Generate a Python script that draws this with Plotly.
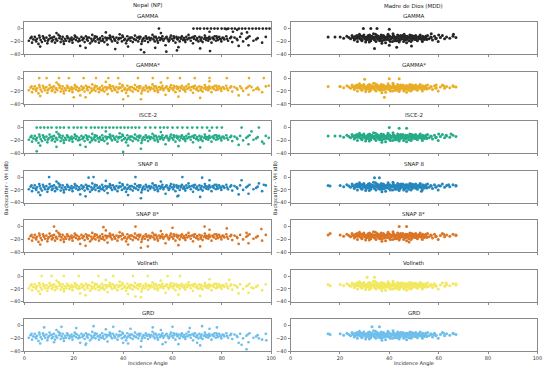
import plotly.graph_objects as go

W, H = 550, 370

SITES = ["Nepal (NP)", "Madre de Dios (MDD)"]
PRODUCTS = ["GAMMA", "GAMMA*", "ISCE-2", "SNAP 8", "SNAP 8*", "Vollrath", "GRD"]
COLORS = ["#000000", "#E69F00", "#009E73", "#0072B2", "#D55E00", "#F0E442", "#56B4E9"]
X_TICKS = [0, 20, 40, 60, 80, 100]
Y_TICKS = [0, -20, -40]

# Shared Nepal cloud (incidence angle, backscatter VH dB)
NP_POINTS = [
    (1.8,-19),(2.5,-15),(3.1,-22),(3.6,-17),(4.2,-13),(4.8,-20),(5.1,-16),(5.7,-24),(6.2,-14),(6.6,-18),
    (7.1,-21),(7.5,-12),(8.0,-16),(8.4,-19),(8.9,-14),(9.3,-23),(9.8,-17),(10.2,-11),(10.6,-15),(11.1,-20),
    (11.5,-18),(12.0,-13),(12.4,-22),(12.9,-16),(13.3,-19),(13.8,-10),(14.2,-15),(14.7,-21),(15.1,-17),(15.5,-13),
    (16.0,-24),(16.4,-16),(16.9,-19),(17.3,-12),(17.8,-15),(18.2,-20),(18.6,-17),(19.1,-14),(19.5,-22),(20.0,-16),
    (20.4,-11),(20.9,-18),(21.3,-14),(21.8,-20),(22.2,-16),(22.6,-27),(23.1,-13),(23.5,-18),(24.0,-15),(24.4,-21),
    (24.9,-12),(25.3,-17),(25.7,-19),(26.2,-14),(26.6,-23),(27.1,-16),(27.5,-10),(28.0,-18),(28.4,-15),(28.8,-20),
    (29.3,-13),(29.7,-17),(30.2,-22),(30.6,-15),(31.1,-19),(31.5,-12),(31.9,-16),(32.4,-21),(32.8,-14),(33.3,-18),
    (33.7,-25),(34.2,-15),(34.6,-11),(35.0,-17),(35.5,-20),(35.9,-13),(36.4,-16),(36.8,-19),(37.3,-14),(37.7,-22),
    (38.1,-17),(38.6,-9),(39.0,-15),(39.5,-20),(39.9,-13),(40.4,-18),(40.8,-16),(41.2,-23),(41.7,-12),(42.1,-17),
    (42.6,-15),(43.0,-19),(43.5,-14),(43.9,-21),(44.3,-16),(44.8,-11),(45.2,-18),(45.7,-14),(46.1,-20),(46.6,-16),
    (47.0,-13),(47.4,-24),(47.9,-17),(48.3,-15),(48.8,-19),(49.2,-12),(49.7,-16),(50.1,-21),(50.5,-14),(51.0,-18),
    (51.4,-15),(51.9,-10),(52.3,-17),(52.8,-20),(53.2,-13),(53.6,-16),(54.1,-22),(54.5,-14),(55.0,-18),(55.4,-15),
    (55.9,-12),(56.3,-19),(56.7,-16),(57.2,-26),(57.6,-13),(58.1,-17),(58.5,-20),(59.0,-14),(59.4,-11),(59.8,-16),
    (60.3,-19),(60.7,-15),(61.2,-22),(61.6,-13),(62.1,-17),(62.5,-14),(62.9,-20),(63.4,-16),(63.8,-12),(64.3,-18),
    (64.7,-15),(65.2,-21),(65.6,-13),(66.0,-17),(66.5,-10),(66.9,-15),(67.4,-19),(67.8,-14),(68.3,-23),(68.7,-16),
    (69.1,-12),(69.6,-18),(70.0,-15),(70.5,-20),(70.9,-13),(71.4,-17),(71.8,-14),(72.2,-21),(72.7,-16),(73.1,-11),
    (73.6,-18),(74.0,-15),(74.5,-19),(74.9,-13),(75.3,-16),(75.8,-22),(76.2,-14),(76.7,-17),(77.1,-12),(77.6,-19),
    (78.0,-15),(78.4,-18),(78.9,-13),(79.3,-16),(79.8,-20),(80.3,-14),(81.0,-17),(81.8,-12),(82.5,-19),(83.4,-15),
    (84.2,-21),(85.1,-14),(86.3,-18),(87.4,-13),(88.6,-20),(89.9,-16),(91.2,-12),(92.8,-19),(94.5,-15),(96.3,-22),
    (97.8,-13),
    (2.9,-13),(4.5,-18),(6.0,-11),(7.8,-15),(9.5,-19),(11.3,-14),(12.7,-17),(14.4,-12),(15.9,-20),(17.5,-15),
    (19.3,-18),(20.7,-13),(22.4,-19),(23.8,-16),(25.5,-14),(27.3,-20),(28.6,-12),(30.4,-17),(31.7,-19),(33.5,-15),
    (34.9,-13),(36.6,-18),(38.4,-15),(39.7,-11),(41.5,-19),(42.9,-14),(44.6,-17),(46.4,-13),(47.7,-20),(49.5,-15),
    (50.8,-17),(52.6,-13),(53.9,-19),(55.7,-16),(57.4,-14),(58.8,-18),(60.5,-12),(61.9,-16),(63.6,-14),(65.0,-18),
    (66.7,-15),(68.5,-13),(69.9,-17),(71.6,-19),(73.3,-14),(74.7,-16),(76.5,-15),(77.8,-12),(79.6,-17),(80.7,-15),
    (82.1,-16),(83.8,-13),(86.0,-16),(90.5,-14),(93.9,-17),
    (24.8,-30),(47.2,-33),(62.4,-29),(71.2,-31),(6.4,-28),(86.8,-27),(55.3,-7),(33.0,-6),(13.0,-7),(75.0,-5),
    (42.0,-28),(90.8,-26),
]

# Shared Madre de Dios cloud
MDD_POINTS = [
    (15.2,-13),(20.1,-13),(21.5,-15),(22.8,-12),(23.6,-14),(24.3,-16),(24.9,-11),(25.4,-14),(25.8,-18),(26.3,-12),
    (26.7,-15),(27.1,-20),(27.5,-13),(27.9,-9),(28.3,-16),(28.6,-12),(29.0,-18),(29.4,-14),(29.7,-10),(30.1,-16),
    (30.4,-21),(30.8,-13),(31.1,-15),(31.5,-11),(31.8,-17),(32.2,-14),(32.5,-19),(32.9,-12),(33.2,-15),(33.6,-8),
    (33.9,-17),(34.3,-13),(34.6,-20),(35.0,-11),(35.3,-15),(35.7,-18),(36.0,-13),(36.4,-16),(36.7,-10),(37.1,-19),
    (37.4,-14),(37.8,-12),(38.1,-17),(38.5,-22),(38.8,-13),(39.2,-15),(39.5,-9),(39.9,-18),(40.2,-12),(40.6,-16),
    (40.9,-14),(41.3,-20),(41.6,-11),(42.0,-15),(42.3,-17),(42.7,-13),(43.0,-19),(43.4,-10),(43.7,-15),(44.1,-12),
    (44.4,-18),(44.8,-14),(45.1,-16),(45.5,-11),(45.8,-20),(46.2,-13),(46.5,-15),(46.9,-17),(47.2,-12),(47.6,-14),
    (47.9,-19),(48.3,-10),(48.6,-16),(49.0,-13),(49.3,-18),(49.7,-12),(50.0,-15),(50.4,-17),(50.7,-11),(51.1,-14),
    (51.4,-19),(51.8,-13),(52.1,-16),(52.5,-10),(52.8,-15),(53.2,-18),(53.5,-12),(53.9,-14),(54.2,-17),(54.6,-13),
    (55.0,-15),(55.5,-11),(56.1,-16),(56.8,-13),(57.5,-18),(58.3,-12),(59.0,-15),(59.8,-20),(60.7,-14),(61.5,-11),
    (62.4,-16),(63.2,-13),(64.5,-15),(65.8,-12),(67.0,-14),
    (25.1,-13),(26.0,-16),(26.9,-11),(27.7,-14),(28.5,-17),(29.2,-12),(30.0,-14),(30.6,-18),(31.3,-13),(32.0,-10),
    (32.7,-16),(33.4,-13),(34.1,-18),(34.8,-14),(35.5,-12),(36.2,-19),(36.9,-15),(37.6,-11),(38.3,-14),(39.0,-17),
    (39.7,-13),(40.4,-20),(41.1,-15),(41.8,-12),(42.5,-16),(43.2,-14),(43.9,-18),(44.6,-11),(45.3,-14),(46.0,-17),
    (46.7,-12),(47.4,-16),(48.1,-13),(48.8,-20),(49.5,-15),(50.2,-12),(50.9,-17),(51.6,-14),(52.3,-12),(53.0,-16),
    (53.7,-13),(54.4,-15),(55.2,-17),(57.0,-14),(58.8,-16),
    (27.3,-15),(28.1,-11),(29.9,-13),(31.0,-17),(32.3,-12),(33.8,-14),(35.2,-16),(36.5,-13),(37.9,-18),(39.3,-12),
    (40.7,-14),(42.2,-19),(43.6,-15),(45.0,-13),(46.4,-18),(47.8,-14),(49.1,-11),(50.6,-16),(52.0,-14),(53.4,-20),
    (54.8,-12),(28.9,-19),(34.4,-9),(41.5,-8),(47.0,-22),(37.0,-23),(44.0,-21),(31.9,-21),
]

# Product-specific points (Nepal)
NP_GAMMA_EXTRA = [(54.5,0),(68.5,0),(70.0,0),(71.2,0),(72.8,0),(74.1,0),(75.6,0),(77.0,0),(78.3,0),(79.9,0),
    (81.2,0),(82.6,0),(84.0,0),(85.3,0),(86.9,0),(88.2,0),(89.5,0),(91.0,0),(92.4,0),(93.8,0),(95.1,0),(96.6,0),
    (98.0,0),(99.3,0),(81.9,-1),(86.2,-2),(84.5,-5),(88.0,-8),(90.2,-6),(36.8,-32),(48.5,-37),(57.5,-36),
    (61.8,-34),(75.2,-35),(53.0,-30)]
NP_GAMMAS_EXTRA = [(6,0),(9,0),(14,0),(18,0),(24,0),(29,0),(34,0),(38,0),(46,0),(52,0),(58,0),(63,0),(69,0),
    (75,0),(82,0),(91,0),(97,0),(88,-16),(92,-14),(95,-18),(99,-12),(40,-33),(20,-30)]
NP_ISCE_EXTRA = [(5,0),(6.5,0),(8,0),(9.5,0),(11,0),(13,0),(14.5,0),(16,0),(18,0),(20,0),(21.5,0),(23,0),
    (25,0),(27,0),(28.5,0),(30,0),(31.5,0),(33,0),(34.5,0),(36,0),(37.5,0),(39,0),(40.5,0),(42,0),(43.5,0),
    (45,0),(46.5,0),(49,0),(51,0),(53,0),(55,0),(56.5,0),(58,0),(60,0),(62,0),(64,0),(66,0),(68,0),(70,0),
    (72,0),(74,0),(76,0),(78,0),(80,0),(88,0),(95,0),(5,-37),(13,-30),(40,-38),(92,-6),(97,-25),(99,-16)]
NP_SNAP_EXTRA = [(10,0),(26,-1),(28,0),(45,0),(64,0),(72,-1),(88,-5),(95,-10),(97,-12),(62,-30)]
NP_SNAPS_EXTRA = [(12,0),(32,-1),(45,0),(60,-2),(73,0),(82,-3),(90,-10),(96,-4),(50,-31)]
NP_VOLL_EXTRA = [(7,0),(11,0),(16,0),(22,0),(30,0),(36,0),(44,0),(50,0),(58,0),(63,0),(83,-6),(92,-18),(45,-32)]
NP_GRD_EXTRA = [(8,-3),(15,-2),(21,-4),(28,-1),(36,-2),(43,-5),(52,-3),(60,-2),(67,-4),(72,-1),(78,-3),
    (12,-26),(25,-28),(40,-27),(56,-29),(70,-27),(88,-30),(90,-37),(95,-20),(98,-23)]

# Product-specific points (Madre de Dios)
MDD_GAMMA_EXTRA = [(29.5,0),(32.5,0),(35.0,0),(40.0,-1),(46.0,-9),(57.0,-8),(60.0,-10),(66.0,-9),
    (34.0,-31),(43.0,-29),(49.0,-27),(40.0,-26),(18.0,-13)]
MDD_GAMMAS_EXTRA = [(30,-2),(40,-1),(44,-1),(38,-30),(20,-13),(62,-12),(66,-13),(59,-11)]
MDD_ISCE_EXTRA = [(44,-1),(47,-1),(40,0),(18,-13),(65,-10),(60,-10),(63,-12)]
MDD_SNAP_EXTRA = [(34,-1),(36,-1),(16,-14),(60,-13),(64,-12),(67,-13),(53,-22)]
MDD_SNAPS_EXTRA = [(44,0),(47,0),(16,-11),(62,-12),(67,-13),(48,-24)]
MDD_VOLL_EXTRA = [(31,-2),(34,-2),(16,-15),(58,-14),(63,-11),(67,-12)]
MDD_GRD_EXTRA = [(33,-2),(36,-2),(16,-14),(58,-14),(62,-12),(66,-13)]

NP_EXTRAS = [NP_GAMMA_EXTRA, NP_GAMMAS_EXTRA, NP_ISCE_EXTRA, NP_SNAP_EXTRA, NP_SNAPS_EXTRA, NP_VOLL_EXTRA, NP_GRD_EXTRA]
MDD_EXTRAS = [MDD_GAMMA_EXTRA, MDD_GAMMAS_EXTRA, MDD_ISCE_EXTRA, MDD_SNAP_EXTRA, MDD_SNAPS_EXTRA, MDD_VOLL_EXTRA, MDD_GRD_EXTRA]

# ---- layout geometry (page pixels; body margin is reset to 0 below) ----
COL_X = [(22.7, 272.7), (292.3, 542.3)]
ROW_TOP0, ROW_PITCH, ROW_H = 22.3, 49.9, 32.4
FONT = "DejaVu Sans"
AX_COLOR = "#8a8a8a"


def fx(px):
    return px / W


def fy(py):
    return 1 - py / H


fig = go.Figure()
layout = dict(width=W, height=H, margin=dict(l=0, r=0, t=0, b=0), showlegend=False,
              paper_bgcolor="white", plot_bgcolor="white",
              font=dict(family=FONT, size=5, color="#333"))
annotations = []


def label(text, px, py, size=5.5, angle=0):
    annotations.append(dict(text=text, x=fx(px), y=fy(py), xref="paper", yref="paper",
                            xanchor="center", yanchor="middle", showarrow=False,
                            textangle=angle, font=dict(size=size, color="#222", family=FONT)))


n = 0
for r, prod in enumerate(PRODUCTS):
    top = ROW_TOP0 + r * ROW_PITCH
    bot = top + ROW_H
    for c, site in enumerate(SITES):
        n += 1
        pts = (NP_POINTS + NP_EXTRAS[r]) if c == 0 else (MDD_POINTS + MDD_EXTRAS[r])
        xs = [p[0] for p in pts]
        ys = [p[1] for p in pts]
        fig.add_trace(go.Scatter(
            x=xs, y=ys, mode="markers", xaxis=f"x{n}", yaxis=f"y{n}",
            marker=dict(size=2.7 if c == 0 else 3.0, color=COLORS[r], line=dict(width=0)),
            opacity=0.85, hoverinfo="skip"))
        x0, x1 = COL_X[c]
        common = dict(showline=True, mirror=True, linecolor=AX_COLOR, linewidth=1,
                      ticks="outside", ticklen=2, tickwidth=0.8, tickcolor=AX_COLOR,
                      showgrid=False, zeroline=False, tickfont=dict(size=5, color="#333", family=FONT))
        layout[f"xaxis{n}"] = dict(common, domain=[fx(x0), fx(x1)], range=[0, 100],
                                   tickvals=X_TICKS, showticklabels=(r == len(PRODUCTS) - 1),
                                   anchor=f"y{n}")
        layout[f"yaxis{n}"] = dict(common, domain=[fy(bot), fy(top)], range=[-40, 10],
                                   tickvals=Y_TICKS, anchor=f"x{n}")
        label(prod, (x0 + x1) / 2, top - 6.5)

for c, site in enumerate(SITES):
    x0, x1 = COL_X[c]
    label(site, (x0 + x1) / 2, 6)
    label("Incidence Angle", (x0 + x1) / 2, 366.0, size=5)
for xp in [4.5, 277.0]:
    label("Backscatter - VH (dB)", xp, 189, size=5, angle=-90)

layout["annotations"] = annotations
fig.update_layout(**layout)
fig.write_html("out.html", config={"displayModeBar": False},
               post_script="document.body.style.margin='0';")
